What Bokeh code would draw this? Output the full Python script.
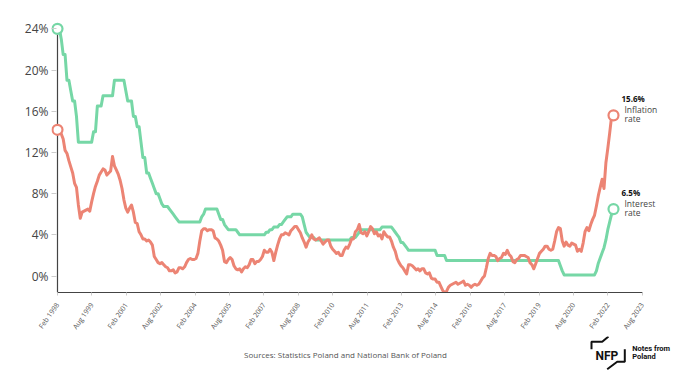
from bokeh.plotting import figure
from bokeh.models import Range1d, FixedTicker, Label
from bokeh.layouts import column
from bokeh.embed import file_html
from bokeh.resources import INLINE

# ---------------- data (monthly, Feb 1998 - Jul 2022) ----------------
inflation = [
    # 1998 Feb-Dec
    14.2, 13.9, 13.8, 13.3, 12.2, 11.9, 11.2, 10.6, 10.0, 9.0, 8.6,
    # 1999
    6.9, 5.6, 6.2, 6.3, 6.4, 6.5, 6.3, 7.2, 8.0, 8.7, 9.2, 9.8,
    # 2000
    10.1, 10.4, 10.3, 9.8, 10.0, 10.2, 11.6, 10.7, 10.3, 9.9, 9.3, 8.5,
    # 2001
    7.4, 6.6, 6.2, 6.6, 6.9, 6.2, 5.2, 5.1, 4.3, 4.0, 3.6, 3.6,
    # 2002
    3.4, 3.5, 3.3, 3.0, 1.9, 1.6, 1.3, 1.2, 1.3, 1.1, 0.9, 0.8,
    # 2003
    0.5, 0.5, 0.6, 0.3, 0.4, 0.8, 0.8, 0.7, 0.9, 1.3, 1.6, 1.7,
    # 2004
    1.6, 1.6, 1.7, 2.2, 3.4, 4.4, 4.6, 4.6, 4.4, 4.5, 4.5, 4.4,
    # 2005
    3.7, 3.6, 3.4, 3.0, 2.5, 1.4, 1.3, 1.6, 1.8, 1.6, 1.0, 0.7,
    # 2006
    0.6, 0.7, 0.4, 0.7, 0.9, 0.8, 1.1, 1.6, 1.6, 1.2, 1.4, 1.4,
    # 2007
    1.6, 1.9, 2.5, 2.3, 2.3, 2.6, 2.3, 1.5, 2.3, 3.0, 3.6, 4.0,
    # 2008
    4.0, 4.2, 4.1, 4.0, 4.4, 4.6, 4.8, 4.8, 4.5, 4.2, 3.7, 3.3,
    # 2009
    2.8, 3.3, 3.6, 4.0, 3.6, 3.5, 3.6, 3.7, 3.4, 3.1, 3.3, 3.5,
    # 2010
    3.5, 2.9, 2.6, 2.4, 2.2, 2.3, 2.0, 2.0, 2.5, 2.8, 2.7, 3.1,
    # 2011
    3.6, 3.6, 4.3, 4.5, 5.0, 4.2, 4.1, 4.3, 3.9, 4.3, 4.8, 4.6,
    # 2012
    4.1, 4.3, 3.9, 4.0, 3.6, 4.3, 4.0, 3.8, 3.8, 3.4, 2.8, 2.4,
    # 2013
    1.7, 1.3, 1.0, 0.8, 0.5, 0.2, 1.1, 1.1, 1.0, 0.8, 0.6, 0.7,
    # 2014
    0.5, 0.7, 0.7, 0.3, 0.2, 0.3, -0.2, -0.3, -0.3, -0.6, -0.6, -1.0,
    # 2015
    -1.4, -1.6, -1.5, -1.1, -0.9, -0.8, -0.7, -0.6, -0.8, -0.7, -0.6, -0.5,
    # 2016
    -0.9, -0.8, -0.9, -1.1, -0.9, -0.8, -0.9, -0.8, -0.5, -0.2, 0.0, 0.8,
    # 2017
    1.7, 2.2, 2.0, 2.0, 1.9, 1.5, 1.7, 1.8, 2.2, 2.1, 2.5, 2.1,
    # 2018
    1.9, 1.4, 1.3, 1.6, 1.7, 2.0, 2.0, 2.0, 1.9, 1.8, 1.3, 1.1,
    # 2019
    0.7, 1.2, 1.7, 2.2, 2.4, 2.6, 2.9, 2.9, 2.6, 2.5, 2.6, 3.4,
    # 2020
    4.3, 4.7, 4.6, 3.4, 2.9, 3.3, 3.0, 2.9, 3.2, 3.1, 3.0, 2.4,
    # 2021
    2.6, 2.4, 3.2, 4.3, 4.7, 4.4, 5.0, 5.5, 5.9, 6.8, 7.8, 8.6,
    # 2022 Jan-Jul
    9.4, 8.5, 11.0, 12.4, 13.9, 15.5, 15.6,
]

interest_rate = [
    # 1998 Feb-Dec
    24.0, 24.0, 23.0, 21.5, 21.5, 19.0, 19.0, 18.0, 17.0, 17.0, 15.5,
    # 1999
    13.0, 13.0, 13.0, 13.0, 13.0, 13.0, 13.0, 13.0, 14.0, 14.0, 16.5, 16.5,
    # 2000
    16.5, 17.5, 17.5, 17.5, 17.5, 17.5, 17.5, 19.0, 19.0, 19.0, 19.0, 19.0,
    # 2001
    19.0, 18.0, 17.0, 17.0, 17.0, 15.5, 15.5, 14.5, 14.5, 13.0, 11.5, 11.5,
    # 2002
    10.0, 10.0, 9.5, 9.0, 8.5, 8.0, 8.0, 7.5, 7.0, 6.75, 6.75, 6.75,
    # 2003
    6.5, 6.25, 6.0, 5.75, 5.5, 5.25, 5.25, 5.25, 5.25, 5.25, 5.25, 5.25,
    # 2004
    5.25, 5.25, 5.25, 5.25, 5.25, 5.75, 6.0, 6.5, 6.5, 6.5, 6.5, 6.5,
    # 2005
    6.5, 6.5, 6.0, 5.5, 5.5, 5.0, 4.75, 4.5, 4.5, 4.5, 4.5, 4.5,
    # 2006
    4.25, 4.0, 4.0, 4.0, 4.0, 4.0, 4.0, 4.0, 4.0, 4.0, 4.0, 4.0,
    # 2007
    4.0, 4.0, 4.0, 4.25, 4.25, 4.5, 4.5, 4.75, 4.75, 4.75, 5.0, 5.0,
    # 2008
    5.25, 5.5, 5.75, 5.75, 5.75, 6.0, 6.0, 6.0, 6.0, 6.0, 5.75, 5.0,
    # 2009
    4.25, 4.0, 3.75, 3.75, 3.75, 3.5, 3.5, 3.5, 3.5, 3.5, 3.5, 3.5,
    # 2010
    3.5, 3.5, 3.5, 3.5, 3.5, 3.5, 3.5, 3.5, 3.5, 3.5, 3.5, 3.5,
    # 2011
    3.75, 3.75, 3.75, 4.0, 4.25, 4.5, 4.5, 4.5, 4.5, 4.5, 4.5, 4.5,
    # 2012
    4.5, 4.5, 4.5, 4.5, 4.75, 4.75, 4.75, 4.75, 4.75, 4.75, 4.5, 4.25,
    # 2013
    4.0, 3.75, 3.25, 3.25, 3.0, 2.75, 2.5, 2.5, 2.5, 2.5, 2.5, 2.5,
    # 2014
    2.5, 2.5, 2.5, 2.5, 2.5, 2.5, 2.5, 2.5, 2.5, 2.0, 2.0, 2.0,
    # 2015
    2.0, 2.0, 1.5, 1.5, 1.5, 1.5, 1.5, 1.5, 1.5, 1.5, 1.5, 1.5,
    # 2016
    1.5, 1.5, 1.5, 1.5, 1.5, 1.5, 1.5, 1.5, 1.5, 1.5, 1.5, 1.5,
    # 2017
    1.5, 1.5, 1.5, 1.5, 1.5, 1.5, 1.5, 1.5, 1.5, 1.5, 1.5, 1.5,
    # 2018
    1.5, 1.5, 1.5, 1.5, 1.5, 1.5, 1.5, 1.5, 1.5, 1.5, 1.5, 1.5,
    # 2019
    1.5, 1.5, 1.5, 1.5, 1.5, 1.5, 1.5, 1.5, 1.5, 1.5, 1.5, 1.5,
    # 2020
    1.5, 1.5, 1.0, 0.5, 0.1, 0.1, 0.1, 0.1, 0.1, 0.1, 0.1, 0.1,
    # 2021
    0.1, 0.1, 0.1, 0.1, 0.1, 0.1, 0.1, 0.1, 0.1, 0.5, 1.25, 1.75,
    # 2022 Jan-Jul
    2.25, 2.75, 3.5, 4.5, 5.25, 6.0, 6.5,
]

months = list(range(len(inflation)))  # month index from Feb 1998

x_tick_labels = ["Feb 1998", "Aug 1999", "Feb 2001", "Aug 2002", "Feb 2004",
                 "Aug 2005", "Feb 2007", "Aug 2008", "Feb 2010", "Aug 2011",
                 "Feb 2013", "Aug 2014", "Feb 2016", "Aug 2017", "Feb 2019",
                 "Aug 2020", "Feb 2022", "Aug 2023"]
y_ticks = [0, 4, 8, 12, 16, 20, 24]
y_tick_labels = ["0%", "4%", "8%", "12%", "16%", "20%", "24%"]

series_names = ["Inflation\nrate", "Interest\nrate"]

# ---------------- styling ----------------
GREEN = "#76d7a6"
RED = "#ec8474"
FONT = "Open Sans"
TICK_STEP = 18.13   # label spacing along the axis (in months)
BORDER_L, BORDER_R = 51, 4
MAIN_H, FOOT_H = 336, 47

x_ticks = [i * TICK_STEP for i in range(len(x_tick_labels))]

p = figure(width=680, height=MAIN_H,
           x_range=Range1d(-3.16, 326.2), y_range=Range1d(-1.6, 25.2),
           output_backend="svg", toolbar_location=None,
           min_border_left=BORDER_L, min_border_right=BORDER_R, min_border_top=16,
           min_border_bottom=MAIN_H - 292)
p.outline_line_color = None
p.grid.visible = False
p.background_fill_color = "white"
p.border_fill_color = "white"

# x axis
p.xaxis.ticker = FixedTicker(ticks=x_ticks)
p.xaxis.major_label_overrides = {t: l for t, l in zip(x_ticks, x_tick_labels)}
p.xaxis.bounds = (0, x_ticks[-1])
p.xaxis.axis_line_color = "#444444"
p.xaxis.axis_line_width = 1.2
p.xaxis.major_tick_in = 0
p.xaxis.major_tick_out = 3
p.xaxis.major_tick_line_color = "#cccccc"
p.xaxis.minor_tick_line_color = None
p.xaxis.major_label_orientation = 0.96
p.xaxis.major_label_text_font = FONT
p.xaxis.major_label_text_font_size = "7px"
p.xaxis.major_label_text_color = "#555555"
p.xaxis.major_label_standoff = 8

# y axis
p.yaxis.ticker = FixedTicker(ticks=y_ticks)
p.yaxis.major_label_overrides = {t: l for t, l in zip(y_ticks, y_tick_labels)}
p.yaxis.axis_line_color = None
p.yaxis.major_tick_in = 5
p.yaxis.major_tick_out = 0
p.yaxis.major_tick_line_color = "#cccccc"
p.yaxis.minor_tick_line_color = None
p.yaxis.major_label_text_font = FONT
p.yaxis.major_label_text_font_size = "12px"
p.yaxis.major_label_text_color = "#444444"
p.yaxis.major_label_standoff = 3

# vertical axis line at the first month
p.segment(x0=[0], y0=[-1.6], x1=[0], y1=[y_ticks[-1]], line_color="#444444",
          line_width=1.2)

# series
for vals, col in ((interest_rate, GREEN), (inflation, RED)):
    p.line(months, vals, line_color=col, line_width=3, line_join="round")
    p.scatter([months[0], months[-1]], [vals[0], vals[-1]], size=10,
              marker="circle", fill_color="white", line_color=col,
              line_width=2.2)

# end annotations
for vals, name in ((inflation, series_names[0]), (interest_rate, series_names[1])):
    lx, ly = months[-1], vals[-1]
    p.add_layout(Label(x=lx, y=ly, x_offset=8, y_offset=17,
                       text=f"{ly}%", text_font=FONT, text_font_style="bold",
                       text_font_size="8px", text_color="#111111",
                       text_baseline="middle"))
    first, second = name.split("\n")
    p.add_layout(Label(x=lx, y=ly, x_offset=11, y_offset=6, text=first,
                       text_font=FONT, text_font_size="8.5px",
                       text_color="#444444", text_baseline="middle"))
    p.add_layout(Label(x=lx, y=ly, x_offset=11, y_offset=-3, text=second,
                       text_font=FONT, text_font_size="8.5px",
                       text_color="#444444", text_baseline="middle"))

# ---------------- footer: source + logo (page-pixel coordinates, y up from 383) ----------------
f = figure(width=680, height=FOOT_H,
           x_range=Range1d(BORDER_L, 680 - BORDER_R), y_range=Range1d(0, FOOT_H),
           output_backend="svg", toolbar_location=None,
           min_border_left=BORDER_L, min_border_right=BORDER_R,
           min_border_top=0, min_border_bottom=0)
f.axis.visible = False
f.grid.visible = False
f.outline_line_color = None

f.add_layout(Label(x=345, y=29, text="Sources: Statistics Poland and National Bank of Poland",
                   text_font=FONT, text_font_size="8px", text_color="#555555",
                   text_align="center", text_baseline="middle"))
f.line([608, 601.7, 591, 591], [47, 41.7, 41.7, 34.3], line_color="#111111",
       line_width=2)
f.line([624.3, 624.3, 616.7, 606.7], [34.3, 21.7, 21.7, 14.3], line_color="#111111",
       line_width=2)
f.add_layout(Label(x=595, y=27.3, text="NFP", text_font="Roboto",
                   text_font_style="bold", text_font_size="12px",
                   text_color="#111111", text_baseline="alphabetic"))
f.add_layout(Label(x=631.7, y=35, text="Notes from", text_font="Roboto",
                   text_font_style="bold", text_font_size="7.5px",
                   text_color="#111111", text_baseline="middle"))
f.add_layout(Label(x=631.7, y=26.7, text="Poland", text_font="Roboto",
                   text_font_style="bold", text_font_size="7.5px",
                   text_color="#111111", text_baseline="middle"))

layout = column(p, f, spacing=0)
open("out.html", "w").write(file_html(layout, INLINE))
